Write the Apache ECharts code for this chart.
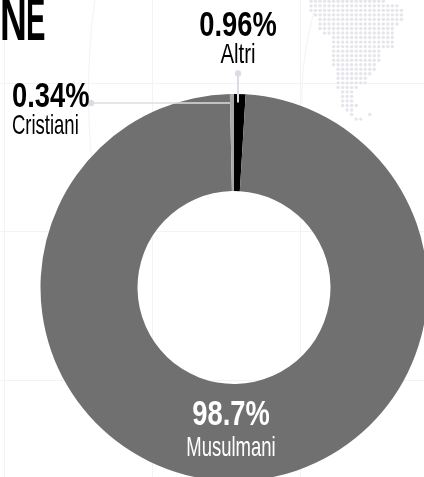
<!DOCTYPE html>
<html>
<head>
<meta charset="utf-8">
<style>html,body{margin:0;padding:0;background:#fff}#chart{width:424px;height:477px}</style>
<script src="https://cdn.jsdelivr.net/npm/echarts@6/dist/echarts.min.js"></script>
</head>
<body>
<div id="chart"></div>
<script>
// Religious affiliation shares
const groups = ['Altri', 'Musulmani', 'Cristiani'];
const shares = [0.96, 98.7, 0.34];
const sliceColors = ['#000000', '#707070', '#a9a9a9'];
const titleLetters = ['N', 'E'];

// Dot-matrix map: each row lists [firstColumn, lastColumn] runs
const mapRows = [
  [[0,16]], [[0,19]], [[0,20]], [[1,20]], [[2,20]], [[2,19]], [[2,18]], [[3,18]],
  [[5,18]], [[5,18]], [[5,18]], [[5,15]], [[5,15]], [[5,15]], [[5,14]], [[6,14]],
  [[6,13]], [[6,12]], [[6,12]], [[6,10]], [[7,9]], [[7,9]], [[7,9]], [[7,10]],
  [[8,9]], [[9,9],[13,13]], [[10,11]]
];
const mapDots = [];
mapRows.forEach((runs, row) => runs.forEach(([a, b]) => {
  for (let col = a; col <= b; col++) mapDots.push([col, row]);
}));

// Caption placement for each slice: anchor, line centres, horizontal squeeze
const captionPlace = {
  Altri: {x: 238, yValue: 26, yName: 55, align: 'center', color: '#000', squeezeValue: 0.78, squeezeName: 0.73},
  Musulmani: {x: 231, yValue: 415.5, yName: 448.5, align: 'center', color: '#fff', squeezeValue: 0.78, squeezeName: 0.66},
  Cristiani: {x: 12, yValue: 97, yName: 126.5, align: 'left', color: '#000', squeezeValue: 0.78, squeezeName: 0.66}
};
const sans = '"Liberation Sans", sans-serif';

const captions = groups.flatMap((name, i) => {
  const c = captionPlace[name];
  const line = (text, y, font, scaleX) => ({
    type: 'text', x: c.x, y, scaleX, z: 60, silent: true,
    style: {text, font, fill: c.color, align: c.align, verticalAlign: 'middle'}
  });
  return [
    line(shares[i] + '%', c.yValue, 'bold 35px ' + sans, c.squeezeValue),
    line(name, c.yName, '28px ' + sans, c.squeezeName)
  ];
});

const faint = '#f3f3f5';
const leader = '#dcdce4';
const straight = (x1, y1, x2, y2, color, width) => ({
  type: 'line', shape: {x1, y1, x2, y2}, style: {stroke: color, lineWidth: width}, silent: true
});
const backdrop = [4.5, 152.5, 300.5].map(x => straight(x, 0, x, 477, faint, 1))
  .concat([83.5, 231.5, 380.5].map(y => straight(0, y, 424, y, faint, 1)))
  .concat([
    {type: 'bezierCurve', shape: {x1: 95, y1: 0, cpx1: 90, cpy1: 30, cpx2: 85, cpy2: 100, x2: 92, y2: 160},
     style: {stroke: faint, lineWidth: 1, fill: null}, silent: true},
    {type: 'bezierCurve', shape: {x1: 314, y1: 12, cpx1: 306, cpy1: 40, cpx2: 301, cpy2: 75, x2: 302, y2: 104},
     style: {stroke: faint, lineWidth: 1, fill: null}, silent: true}
  ]);
backdrop.forEach(el => { el.z = -10; });

// Title letters are set individually so the gap between them stays open
const titleX = [0, 26];
const titleSqueeze = [0.6, 0.47];
const title = titleLetters.map((ch, i) => ({
  type: 'text', x: titleX[i], y: 22.5, scaleX: titleSqueeze[i], z: 5, silent: true,
  style: {text: ch, font: 'bold 62px ' + sans, fill: '#000', verticalAlign: 'middle'}
}));

const chart = echarts.init(document.getElementById('chart'), null, {renderer: 'canvas'});
chart.setOption({
  animation: false,
  backgroundColor: '#ffffff',
  graphic: [
    ...backdrop,
    ...title,
    {...straight(238, 73, 238, 102.5, leader, 2), z: 50},
    {type: 'circle', shape: {cx: 238, cy: 73.5, r: 3.2}, style: {fill: leader}, z: 50, silent: true},
    {...straight(91, 103, 230, 103, leader, 1.5), z: 50},
    {type: 'circle', shape: {cx: 91, cy: 103, r: 3.2}, style: {fill: leader}, z: 50, silent: true},
    ...captions
  ],
  grid: {left: 311, top: 1.3, width: 90.4, height: 117.8, containLabel: false},
  xAxis: {type: 'value', min: 0, max: 20, show: false},
  yAxis: {type: 'value', min: 0, max: 26, inverse: true, show: false},
  series: [
    {
      type: 'scatter', data: mapDots, symbol: 'circle', symbolSize: 3.4, z: 1,
      itemStyle: {color: '#dfdfe6'}, silent: true
    },
    {
      type: 'pie', center: [234, 287.5], radius: [96.5, 193.5], startAngle: 90, clockwise: true,
      avoidLabelOverlap: false, silent: true, z: 3,
      data: groups.map((name, i) => ({name, value: shares[i], itemStyle: {color: sliceColors[i]}})),
      label: {show: false},
      labelLine: {show: false}
    }
  ]
});
</script>
</body>
</html>
